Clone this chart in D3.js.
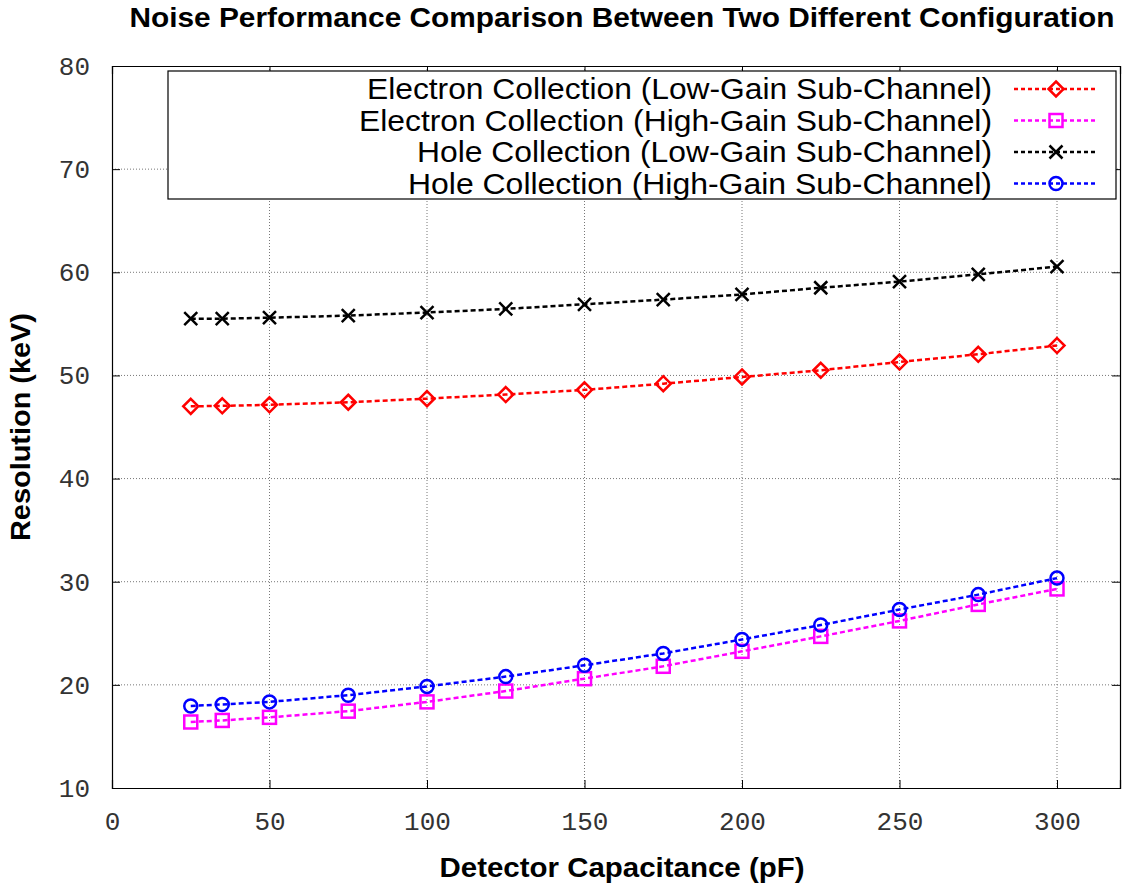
<!DOCTYPE html>
<html>
<head>
<meta charset="utf-8">
<script src="https://cdn.jsdelivr.net/npm/d3@7"></script>
<style>
  body { margin: 0; background: #fff; }
  svg { display: block; }
</style>
</head>
<body>
<script>
// Data
var capacitance = [25, 35, 50, 75, 100, 125, 150, 175, 200, 225, 250, 275, 300];
var elecLow  = [47.0, 47.05, 47.15, 47.4, 47.75, 48.15, 48.6, 49.2, 49.85, 50.5, 51.3, 52.05, 52.9];
var elecHigh = [16.4, 16.55, 16.85, 17.45, 18.35, 19.4, 20.6, 21.8, 23.25, 24.7, 26.2, 27.8, 29.3];
var holeLow  = [55.5, 55.5, 55.6, 55.8, 56.1, 56.45, 56.9, 57.35, 57.85, 58.5, 59.1, 59.8, 60.55];
var holeHigh = [17.95, 18.1, 18.35, 19.0, 19.85, 20.8, 21.9, 23.05, 24.4, 25.8, 27.3, 28.75, 30.35];
var seriesNames = [
    "Electron Collection (Low-Gain Sub-Channel)",
    "Electron Collection (High-Gain Sub-Channel)",
    "Hole Collection (Low-Gain Sub-Channel)",
    "Hole Collection (High-Gain Sub-Channel)"
];
var xTicks = [0, 50, 100, 150, 200, 250, 300];
var yTicks = [10, 20, 30, 40, 50, 60, 70, 80];

var width = 1128, height = 886;
var margin = { top: 66, bottom: 98, left: 112, right: 8 };
var w = width - margin.left - margin.right;
var h = height - margin.top - margin.bottom;

var sansFont = "'Liberation Sans', Arial, Helvetica, sans-serif";
var tickFont = "'Liberation Mono', 'Courier New', monospace";

var svg = d3.select("body").append("svg")
    .attr("width", width)
    .attr("height", height);

var g = svg.append("g")
    .attr("transform", "translate(" + margin.left + "," + margin.top + ")");

var x = d3.scaleLinear().domain([0, 320]).range([0, w]);
var y = d3.scaleLinear().domain([10, 80]).range([h, 0]);

// dotted grid
g.selectAll(".vgrid").data(xTicks.slice(1)).enter().append("line")
    .attr("x1", function(d) { return x(d); }).attr("x2", function(d) { return x(d); })
    .attr("y1", 0).attr("y2", h)
    .attr("stroke", "#777").attr("stroke-width", 1).attr("stroke-dasharray", "1,2");
g.selectAll(".hgrid").data(yTicks.slice(1, -1)).enter().append("line")
    .attr("x1", 0).attr("x2", w)
    .attr("y1", function(d) { return y(d); }).attr("y2", function(d) { return y(d); })
    .attr("stroke", "#777").attr("stroke-width", 1).attr("stroke-dasharray", "1,2");

// axes, ticks pointing inward, mirrored on top and right
g.append("g").attr("transform", "translate(0," + h + ")")
    .call(d3.axisBottom(x).tickValues(xTicks).tickSize(-8).tickPadding(24));
g.append("g")
    .call(d3.axisLeft(y).tickValues(yTicks).tickSize(-8).tickPadding(22));
g.append("g").call(d3.axisTop(x).tickValues(xTicks).tickSize(-8).tickFormat(""));
g.append("g").attr("transform", "translate(" + w + ",0)")
    .call(d3.axisRight(y).tickValues(yTicks).tickSize(-8).tickFormat(""));

g.selectAll(".domain").attr("stroke", "#000").attr("stroke-width", 1.2);
g.selectAll(".tick line").attr("stroke", "#000");
g.selectAll(".tick text")
    .attr("font-family", tickFont).attr("font-size", 26).attr("fill", "#333");

// series
var series = [
    { name: seriesNames[0], vals: elecLow,  color: "#ff0000", marker: "diamond" },
    { name: seriesNames[1], vals: elecHigh, color: "#ff00ff", marker: "square" },
    { name: seriesNames[2], vals: holeLow,  color: "#000000", marker: "cross" },
    { name: seriesNames[3], vals: holeHigh, color: "#0000ff", marker: "circle" }
];

var line = d3.line()
    .x(function(d) { return x(d[0]); })
    .y(function(d) { return y(d[1]); });

function drawMarker(sel, type, color) {
    if (type == "diamond") {
        sel.append("path").attr("d", "M0,-7.5L7.5,0L0,7.5L-7.5,0Z")
            .attr("fill", "none").attr("stroke", color).attr("stroke-width", 2.5);
    } else if (type == "square") {
        sel.append("rect").attr("x", -6.5).attr("y", -6.5).attr("width", 13).attr("height", 13)
            .attr("fill", "none").attr("stroke", color).attr("stroke-width", 2.5);
    } else if (type == "cross") {
        sel.append("path").attr("d", "M-6.5,-6.5L6.5,6.5M-6.5,6.5L6.5,-6.5")
            .attr("fill", "none").attr("stroke", color).attr("stroke-width", 2.5);
    } else {
        sel.append("circle").attr("r", 6.5)
            .attr("fill", "none").attr("stroke", color).attr("stroke-width", 2.5);
    }
}

series.forEach(function(s) {
    var pts = capacitance.map(function(c, i) { return [c, s.vals[i]]; });
    g.append("path").datum(pts)
        .attr("d", line)
        .attr("fill", "none")
        .attr("stroke", s.color)
        .attr("stroke-width", 2.5)
        .attr("stroke-dasharray", "5,3");
    pts.forEach(function(p) {
        var m = g.append("g").attr("transform", "translate(" + x(p[0]) + "," + y(p[1]) + ")");
        drawMarker(m, s.marker, s.color);
    });
});

// legend
var legendWidths = [625, 633, 575, 584];
var lg = svg.append("g");
lg.append("rect")
    .attr("x", 168).attr("y", 71).attr("width", 948).attr("height", 128)
    .attr("fill", "#fff").attr("stroke", "#000").attr("stroke-width", 1.2);
series.forEach(function(s, i) {
    var ly = 89 + i * 31.5;
    lg.append("text")
        .attr("x", 992).attr("y", ly + 10)
        .attr("text-anchor", "end")
        .attr("font-family", sansFont)
        .attr("font-size", 29)
        .attr("textLength", legendWidths[i])
        .attr("lengthAdjust", "spacingAndGlyphs")
        .text(s.name);
    lg.append("line")
        .attr("x1", 1014).attr("x2", 1096).attr("y1", ly).attr("y2", ly)
        .attr("stroke", s.color).attr("stroke-width", 2.5).attr("stroke-dasharray", "4,3");
    var m = lg.append("g").attr("transform", "translate(1056," + ly + ")");
    drawMarker(m, s.marker, s.color);
});

// titles
svg.append("text")
    .attr("x", 622).attr("y", 27)
    .attr("text-anchor", "middle")
    .attr("font-family", sansFont)
    .attr("font-weight", "bold").attr("font-size", 27)
    .attr("textLength", 985).attr("lengthAdjust", "spacingAndGlyphs")
    .text("Noise Performance Comparison Between Two Different Configuration");

svg.append("text")
    .attr("x", 622).attr("y", 877)
    .attr("text-anchor", "middle")
    .attr("font-family", sansFont)
    .attr("font-weight", "bold").attr("font-size", 27)
    .attr("textLength", 365).attr("lengthAdjust", "spacingAndGlyphs")
    .text("Detector Capacitance (pF)");

svg.append("text")
    .attr("transform", "translate(30,427) rotate(-90)")
    .attr("text-anchor", "middle")
    .attr("font-family", sansFont)
    .attr("font-weight", "bold").attr("font-size", 27)
    .attr("textLength", 228).attr("lengthAdjust", "spacingAndGlyphs")
    .text("Resolution (keV)");
</script>
</body>
</html>
